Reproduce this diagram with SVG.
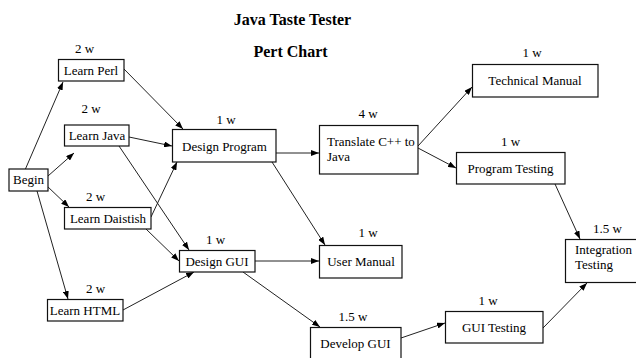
<svg xmlns="http://www.w3.org/2000/svg" width="636" height="358" viewBox="0 0 636 358">
  <style>
    .box { fill: #fff; stroke: #111; stroke-width: 1.2; }
    .lbl { font-family: "Liberation Serif", "Times New Roman", serif; font-size: 13px; fill: #000; text-anchor: middle; }
    .left { text-anchor: start; }
    .dur { font-family: "Liberation Serif", "Times New Roman", serif; font-size: 13px; fill: #000; text-anchor: middle; }
    .title { font-family: "Liberation Serif", "Times New Roman", serif; font-size: 16px; font-weight: bold; fill: #000; text-anchor: middle; }
    .edge { stroke: #222; stroke-width: 1; fill: none; marker-end: url(#ah); }
  </style>
  <defs>
    <marker id="ah" viewBox="0 0 8 6" refX="8" refY="3" markerWidth="8" markerHeight="6" orient="auto" markerUnits="userSpaceOnUse">
      <path d="M0,0 L8,3 L0,6 z" fill="#000"/>
    </marker>
  </defs>
  <rect width="636" height="358" fill="#fff"/>

  <g id="title">
    <text class="title" x="292.5" y="25">Java Taste Tester</text>
    <text class="title" x="290.5" y="57">Pert Chart</text>
  </g>

  <g id="connectors">
    <line class="edge" x1="25" y1="170" x2="63" y2="82"/>
    <line class="edge" x1="48" y1="176" x2="74" y2="153"/>
    <line class="edge" x1="47" y1="186" x2="69" y2="207"/>
    <line class="edge" x1="37" y1="191" x2="68" y2="299"/>
    <line class="edge" x1="124" y1="69" x2="183" y2="129"/>
    <line class="edge" x1="129" y1="137" x2="172" y2="146"/>
    <line class="edge" x1="119" y1="146" x2="189" y2="250"/>
    <line class="edge" x1="151" y1="217" x2="177" y2="162"/>
    <line class="edge" x1="146" y1="229" x2="179" y2="261"/>
    <line class="edge" x1="123" y1="310" x2="194" y2="272"/>
    <line class="edge" x1="276" y1="153" x2="319" y2="153"/>
    <line class="edge" x1="272" y1="162" x2="325" y2="245"/>
    <line class="edge" x1="255" y1="261" x2="319" y2="261"/>
    <line class="edge" x1="243" y1="272" x2="320" y2="327"/>
    <line class="edge" x1="418" y1="146" x2="472" y2="87"/>
    <line class="edge" x1="418" y1="148" x2="456" y2="168"/>
    <line class="edge" x1="555" y1="184" x2="580" y2="239"/>
    <line class="edge" x1="401" y1="338" x2="445" y2="323"/>
    <line class="edge" x1="543" y1="328" x2="587" y2="283"/>
  </g>

  <g id="begin">
    <rect class="box" x="9" y="169" width="39" height="22"/>
    <text class="lbl" x="28.5" y="184">Begin</text>
  </g>

  <g id="learn-perl">
    <rect class="box" x="58.5" y="59.5" width="65.5" height="21.5"/>
    <text class="lbl" x="91" y="74.5">Learn Perl</text>
    <text class="dur" x="84.5" y="53">2 w</text>
  </g>

  <g id="learn-java">
    <rect class="box" x="64.5" y="125" width="64.5" height="21"/>
    <text class="lbl" x="97" y="140">Learn Java</text>
    <text class="dur" x="91" y="113">2 w</text>
  </g>

  <g id="learn-daistish">
    <rect class="box" x="64.5" y="207.5" width="86.5" height="21.5"/>
    <text class="lbl" x="108" y="222.5">Learn Daistish</text>
    <text class="dur" x="95.5" y="201">2 w</text>
  </g>

  <g id="learn-html">
    <rect class="box" x="47.5" y="299.5" width="75.5" height="21.5"/>
    <text class="lbl" x="85" y="314.5">Learn HTML</text>
    <text class="dur" x="95.5" y="293">2 w</text>
  </g>

  <g id="design-program">
    <rect class="box" x="172.5" y="129.5" width="103.5" height="32.5"/>
    <text class="lbl" x="224.5" y="151">Design Program</text>
    <text class="dur" x="226" y="124">1 w</text>
  </g>

  <g id="design-gui">
    <rect class="box" x="179.5" y="250.5" width="75.5" height="21.5"/>
    <text class="lbl" x="217" y="265.5">Design GUI</text>
    <text class="dur" x="215.5" y="244">1 w</text>
  </g>

  <g id="translate">
    <rect class="box" x="319.5" y="125.5" width="98.5" height="48.5"/>
    <text class="lbl left" x="327" y="146">Translate C++ to</text>
    <text class="lbl left" x="327" y="161">Java</text>
    <text class="dur" x="368" y="118">4 w</text>
  </g>

  <g id="user-manual">
    <rect class="box" x="319.5" y="245.5" width="82.5" height="32.5"/>
    <text class="lbl" x="361" y="266">User Manual</text>
    <text class="dur" x="368" y="237">1 w</text>
  </g>

  <g id="develop-gui">
    <rect class="box" x="310.5" y="327.5" width="90.5" height="34"/>
    <text class="lbl" x="355.5" y="348">Develop GUI</text>
    <text class="dur" x="353" y="321">1.5  w</text>
  </g>

  <g id="technical-manual">
    <rect class="box" x="472.5" y="64.5" width="125.5" height="32.5"/>
    <text class="lbl" x="535" y="85">Technical Manual</text>
    <text class="dur" x="532" y="57">1 w</text>
  </g>

  <g id="program-testing">
    <rect class="box" x="456.5" y="152.5" width="108.5" height="31.5"/>
    <text class="lbl" x="510.5" y="173">Program Testing</text>
    <text class="dur" x="510.5" y="146">1 w</text>
  </g>

  <g id="gui-testing">
    <rect class="box" x="445.5" y="311.5" width="97.5" height="31.5"/>
    <text class="lbl" x="494" y="332">GUI Testing</text>
    <text class="dur" x="488" y="305">1 w</text>
  </g>

  <g id="integration-testing">
    <rect class="box" x="565.5" y="239.5" width="72" height="43"/>
    <text class="lbl left" x="575" y="254">Integration</text>
    <text class="lbl left" x="575" y="269">Testing</text>
    <text class="dur" x="607.5" y="233">1.5 w</text>
  </g>
</svg>
